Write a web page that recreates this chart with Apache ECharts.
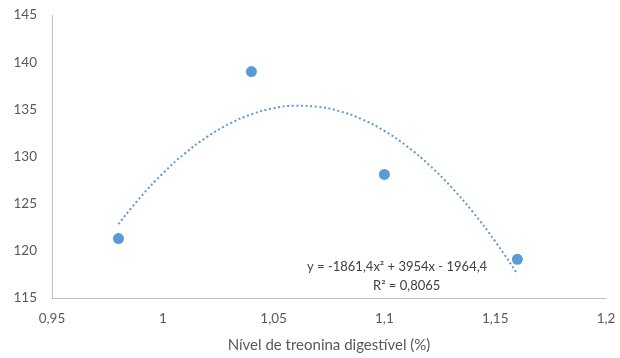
<!DOCTYPE html>
<html>
<head>
<meta charset="utf-8">
<script src="https://cdn.jsdelivr.net/npm/echarts@6/dist/echarts.min.js"></script>
<style>
  html, body { margin: 0; padding: 0; background: #fff; }
  #chart { width: 620px; height: 358px; }
</style>
</head>
<body>
<div id="chart"></div>
<script>
// pontos observados
const nivel = [0.98, 1.04, 1.10, 1.16]
const resposta = [121.3, 139.0, 128.1, 119.1]
const trendX = [0.98, 0.99, 1.00, 1.01, 1.02, 1.03, 1.04, 1.05, 1.06, 1.07,
  1.08, 1.09, 1.10, 1.11, 1.12, 1.13, 1.14, 1.15, 1.16]
const trendY = [122.83, 125.70, 128.20, 130.33, 132.08, 133.46, 134.47, 135.11, 135.37, 135.26,
  134.78, 133.93, 132.71, 131.11, 129.14, 126.80, 124.09, 121.00, 117.54]
const equacao = 'y = -1861,4x² + 3954x - 1964,4'
const r2 = 'R² = 0,8065'

const fmt = v => String(Math.round(v * 100) / 100).replace('.', ',')
const font = 'Lato, "Open Sans", sans-serif'

const option = {
  animation: false,
  backgroundColor: '#fff',
  grid: { left: 52, right: 14, top: 15, bottom: 58 },
  xAxis: {
    type: 'value',
    min: 0.95,
    max: 1.2,
    interval: 0.05,
    name: 'Nível de treonina digestível (%)',
    nameLocation: 'middle',
    nameGap: 40,
    nameTextStyle: { color: '#595959', fontSize: 15, fontFamily: font },
    axisLine: { lineStyle: { color: '#bfbfbf', width: 1 } },
    axisTick: { show: false },
    splitLine: { show: false },
    axisLabel: { color: '#595959', fontSize: 13.5, fontFamily: font, margin: 14, formatter: fmt }
  },
  yAxis: {
    type: 'value',
    min: 115,
    max: 145,
    interval: 5,
    axisLine: { show: true, lineStyle: { color: '#bfbfbf', width: 1 } },
    axisTick: { show: false },
    splitLine: { show: false },
    axisLabel: { color: '#595959', fontSize: 13.5, fontFamily: font, margin: 15 }
  },
  series: [
    {
      name: 'Tendência',
      type: 'line',
      data: trendX.map((x, i) => [x, trendY[i]]),
      smooth: true,
      symbol: 'none',
      lineStyle: { color: '#5b9bd5', width: 2, type: [2, 2.6] },
      z: 1
    },
    {
      name: 'Observado',
      type: 'scatter',
      data: nivel.map((x, i) => [x, resposta[i]]),
      symbolSize: 11,
      itemStyle: { color: '#5b9bd5', opacity: 1 },
      z: 2
    }
  ],
  graphic: [
    {
      type: 'text',
      left: 307,
      top: 260,
      style: { text: equacao, fill: '#404040', fontSize: 13, fontFamily: font }
    },
    {
      type: 'text',
      left: 373,
      top: 279,
      style: { text: r2, fill: '#404040', fontSize: 13, fontFamily: font }
    }
  ]
}

const chart = echarts.init(document.getElementById('chart'))
chart.setOption(option)
window.onresize = function () {
  chart.resize()
}
</script>
</body>
</html>
